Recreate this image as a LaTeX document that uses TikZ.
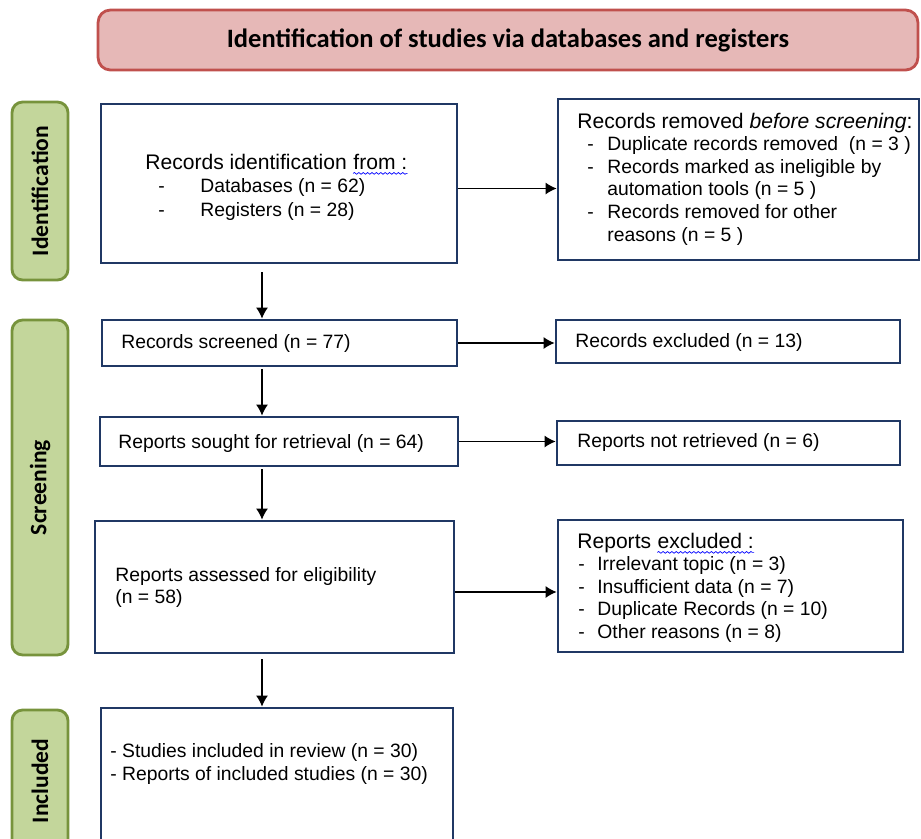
\documentclass[tikz,border=0pt]{standalone}
\usepackage{fontspec}
\setmainfont{Liberation Sans}
\newfontfamily\calib{Carlito}
\usetikzlibrary{%
  arrows.meta,%
  positioning,%
  decorations.pathmorphing% snake for the spell mark
}

\definecolor{boxblue}{RGB}{32,56,100}
\definecolor{headfill}{RGB}{230,184,183}
\definecolor{headline}{RGB}{192,80,77}
\definecolor{phasefill}{RGB}{195,214,155}
\definecolor{phaseline}{RGB}{119,147,60}

\begin{document}
\begin{tikzpicture}[x=0.02cm,y=-0.02cm]
 \useasboundingbox (0,0) rectangle (921,839);
 \begin{scope}[box/.style={draw=boxblue,line width=1.6pt,inner sep=0pt},
   phase/.style={draw=phaseline,fill=phasefill,line width=1.6pt,rounded corners=6pt,inner sep=0pt,
     rotate=90,minimum height=1.12cm,font=\calib\bfseries\fontsize{13.4}{15}\selectfont},
   txt/.style={anchor=base west,inner sep=0pt,font=\fontsize{11}{13}\selectfont},
   ttl/.style={txt,font=\fontsize{12}{14}\selectfont},
   arr/.style={-{Latex[length=2.2mm,width=2.4mm]},line width=0.7pt},
   spell/.style={draw=blue,decorate,decoration={snake,amplitude=0.5pt,segment length=2.5pt},line width=0.4pt}]
   % header
   \node[draw=headline,fill=headfill,line width=1.6pt,rounded corners=7pt,
     minimum width=16.4cm,minimum height=1.2cm] (head) at (508,40)
     {\calib\bfseries\fontsize{15.1}{17}\selectfont Identification of studies via databases and registers};

   % phases
   \node[phase,minimum width=3.56cm] (ident) at (40,191) {Identification};
   \node[phase,minimum width=6.7cm] (screen) at (40,487.5) {Screening};
   \node[phase,minimum width=2.84cm] (incl) at (40,781) {Included};

   % boxes
   \node[box,minimum width=7.12cm,minimum height=3.18cm] (idbox) at (279,183.5) {};
   \node[box,minimum width=7.22cm,minimum height=3.22cm] (removed) at (738.5,179.5) {};
   \node[box,minimum width=7.1cm,minimum height=0.92cm] (screened) at (279.5,343) {};
   \node[box,minimum width=6.88cm,minimum height=0.86cm] (recexcl) at (728,341.5) {};
   \node[box,minimum width=7.16cm,minimum height=0.98cm] (sought) at (279,441.5) {};
   \node[box,minimum width=6.86cm,minimum height=0.88cm] (notret) at (728.5,443) {};
   \node[box,minimum width=7.18cm,minimum height=2.64cm] (assessed) at (274.5,587) {};
   \node[box,minimum width=6.9cm,minimum height=2.64cm] (repexcl) at (730.5,586) {};
   \node[box,minimum width=7.04cm,minimum height=3.84cm] (included) at (277,804) {};

   % texts
   \node[ttl] (idttl) at (145,169) {Records identification};
   \node[ttl,xshift=3.3pt] (idfrom) at (idttl.base east) {from :};
   \draw[spell] ([yshift=-2.5pt]idfrom.base west) -- ([yshift=-2.5pt]idfrom.base east);
   \node[txt] (iddash1) at (158,192) {-};
   \node[txt] (iddb) at (200,192) {Databases (n = 62)};
   \node[txt] (iddash2) at (158,216) {-};
   \node[txt] (idreg) at (200,216) {Registers (n = 28)};

   \node[ttl] (rmttl) at (577,128) {Records removed \textit{before screening}:};
   \foreach \dsh/\itm [count=\i] in {-/Duplicate records removed\ \ (n = 3 ),
       -/Records marked as ineligible by, /automation tools (n = 5 ),
       -/Records removed for other, /reasons (n = 5 )}
   {
     \node[txt] (rmd\i) at (587,{128+22.6*\i}) {\dsh};
     \node[txt] (rm\i) at (607,{128+22.6*\i}) {\itm};
   }

   \node[txt] (scrtxt) at (121,348) {Records screened (n = 77)};
   \node[txt] (rextxt) at (575,347) {Records excluded (n = 13)};
   \node[txt] (sgtxt) at (118,448) {Reports sought for retrieval (n = 64)};
   \node[txt] (nrtxt) at (577,447) {Reports not retrieved (n = 6)};
   \node[txt] (astxt1) at (115,581) {Reports assessed for eligibility};
   \node[txt] (astxt2) at (115,603) {(n = 58)};

   \node[ttl] (exttl) at (577,548) {Reports};
   \node[ttl,xshift=3.3pt] (exword) at (exttl.base east) {excluded :};
   \draw[spell] ([yshift=-2.5pt]exword.base west) -- ([yshift=-2.5pt]exword.base east);
   \foreach \itm [count=\i] in {Irrelevant topic (n = 3), Insufficient data (n = 7),
       Duplicate Records (n = 10), Other reasons (n = 8)}
   {
     \node[txt] (exd\i) at (578,{548+22.5*\i}) {-};
     \node[txt] (ex\i) at (597,{548+22.5*\i}) {\itm};
   }

   \node[txt] (intxt1) at (110,757) {- Studies included in review (n = 30)};
   \node[txt] (intxt2) at (110,780) {- Reports of included studies (n = 30)};

   % arrows
   \coordinate (spine) at (262,0);
   \draw[arr,shorten <=0.16cm] (idbox.south -| spine) -- (screened.north -| spine);
   \draw[arr,shorten <=0.03cm] (screened.south -| spine) -- (sought.north -| spine);
   \draw[arr,shorten <=0.04cm] (sought.south -| spine) -- (assessed.north -| spine);
   \draw[arr,shorten <=0.1cm] (assessed.south -| spine) -- (included.north -| spine);

   \draw[arr] ([yshift=-0.1cm]idbox.east) -- ([yshift=-0.1cm]idbox.east -| removed.west);
   \draw[arr] (screened.east) -- (screened.east -| recexcl.west);
   \draw[arr] (sought.east) -- (sought.east -| notret.west);
   \draw[arr] ([yshift=-0.1cm]assessed.east) -- ([yshift=-0.1cm]assessed.east -| repexcl.west);
 \end{scope}
\end{tikzpicture}
\end{document}
